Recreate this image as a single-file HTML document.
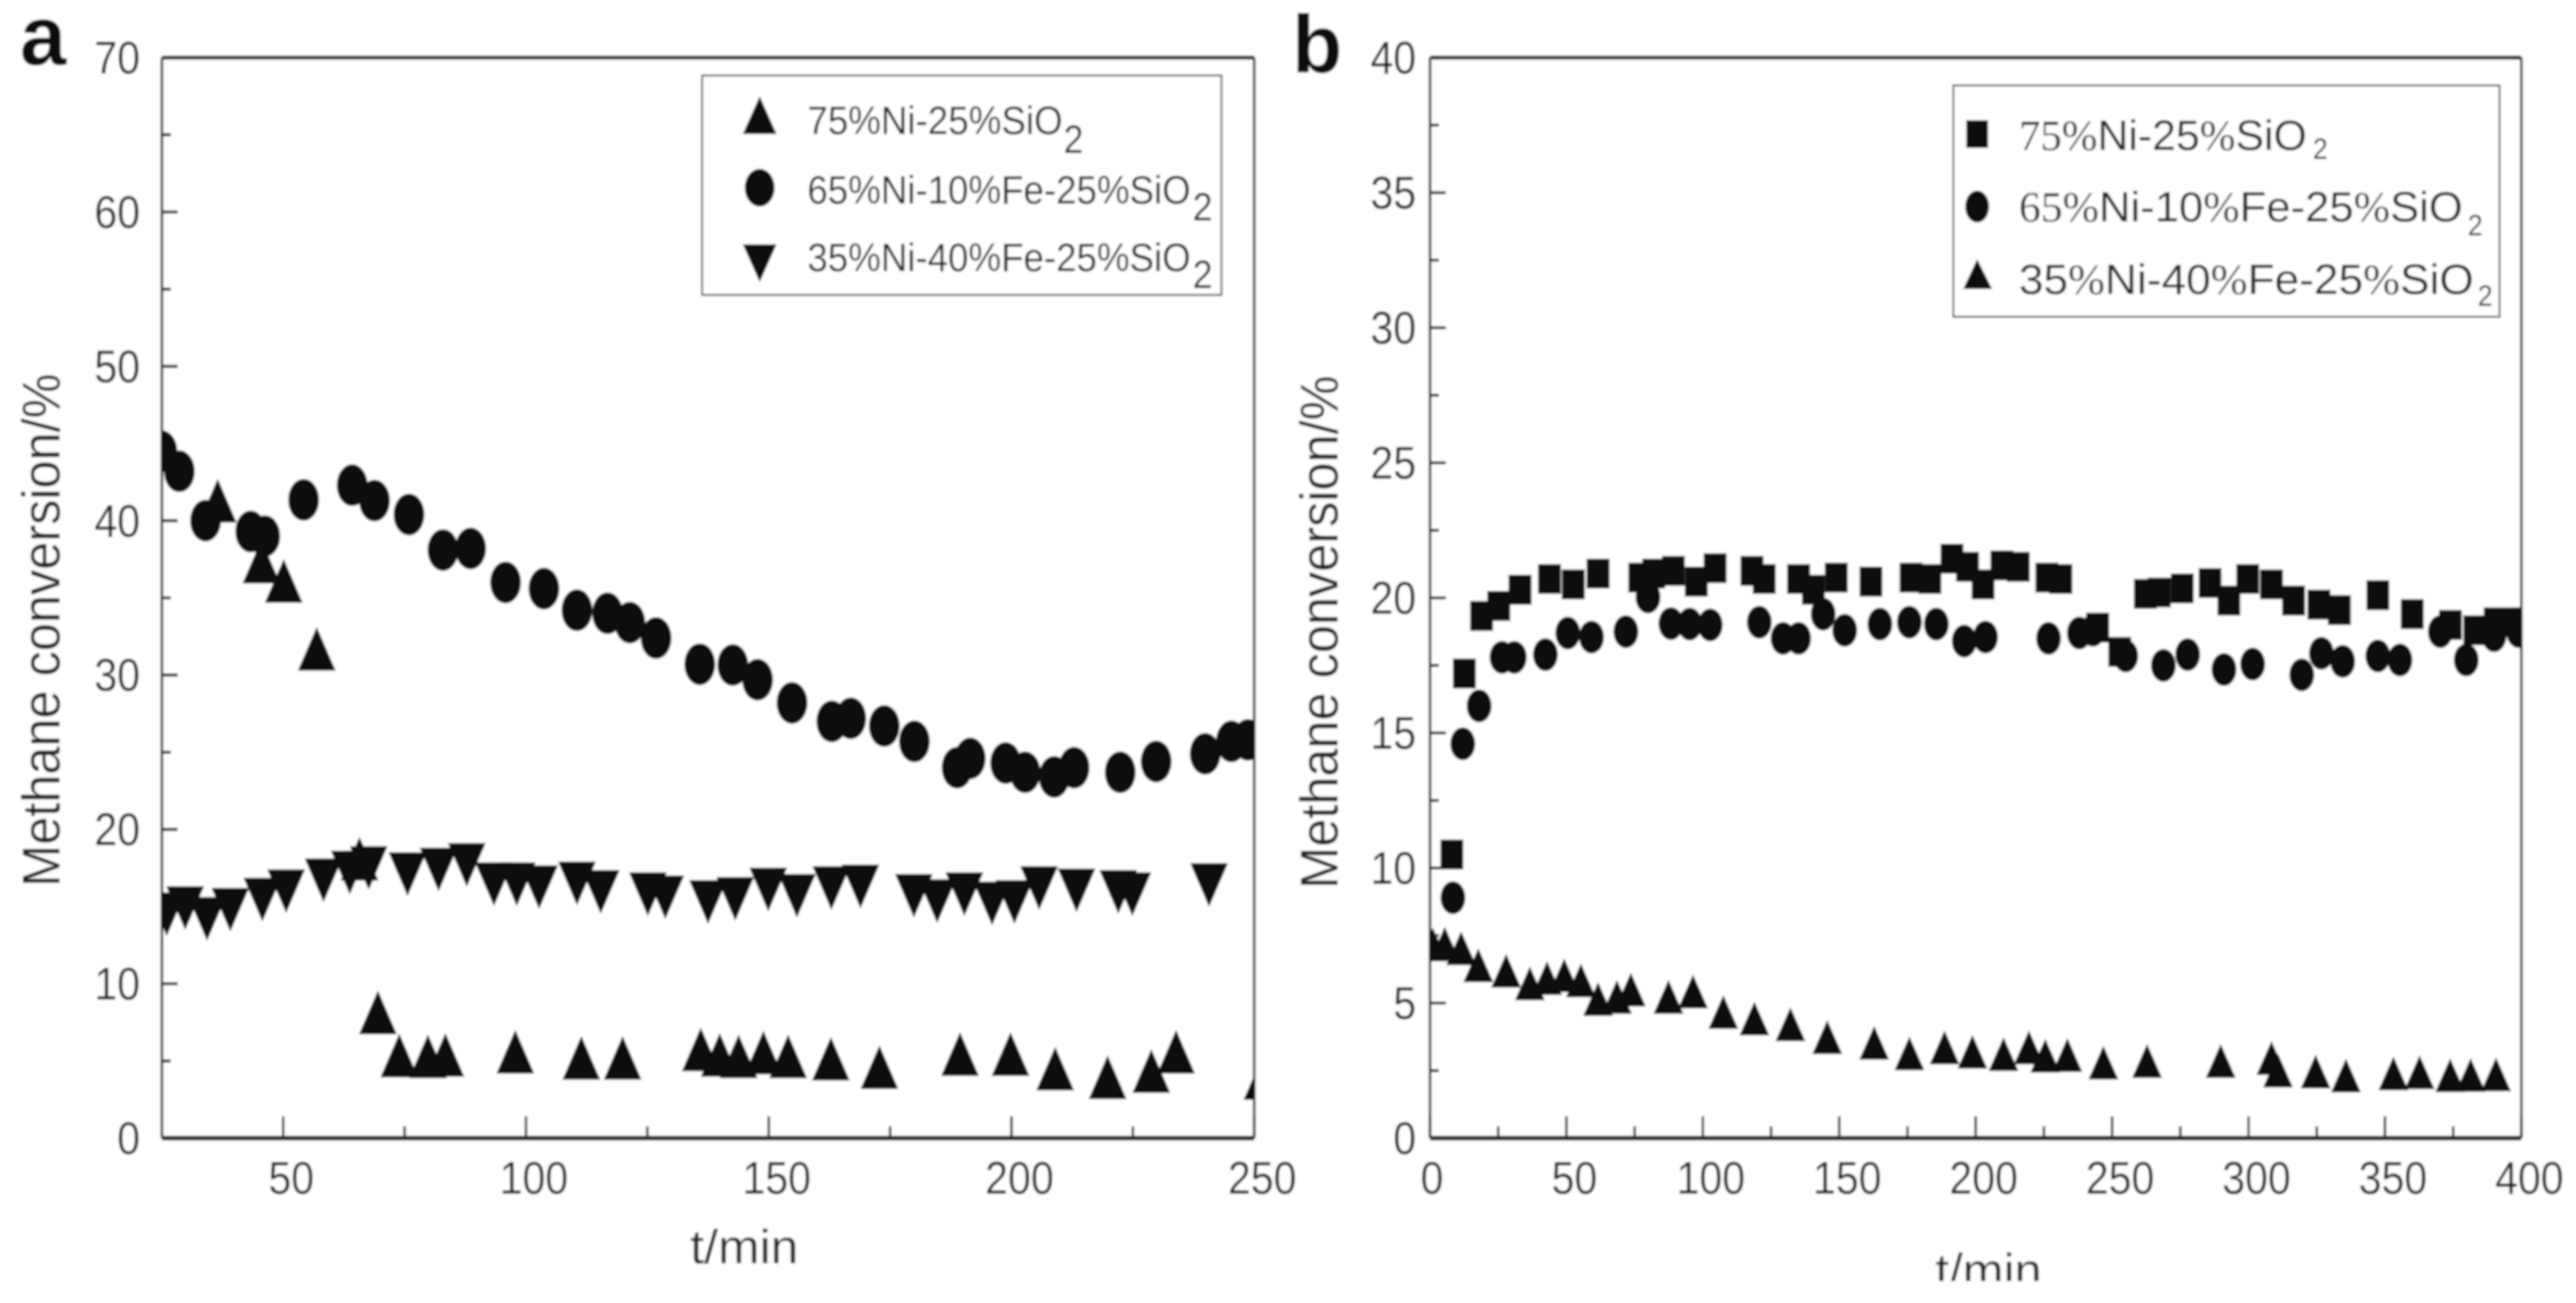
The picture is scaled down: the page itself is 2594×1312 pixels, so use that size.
<!DOCTYPE html>
<html lang="en">
<head>
<meta charset="utf-8">
<title>Methane conversion vs time</title>
<style>
  html, body { margin: 0; padding: 0; background: #fff; }
  svg { display: block; }
  text { font-family: "Liberation Sans", sans-serif; fill: #222; }
</style>
</head>
<body>
<svg id="figure" xmlns="http://www.w3.org/2000/svg" width="2594" height="1312" viewBox="0 0 2594 1312">
  <defs>
    <clipPath id="clip-a"><rect x="163" y="58" width="1100" height="1088"/></clipPath>
    <clipPath id="clip-b"><rect x="1440" y="58" width="1099" height="1088"/></clipPath>
    <clipPath id="clip-page"><rect x="0" y="0" width="2594" height="1290"/></clipPath>
    <filter id="soft" x="0" y="0" width="100%" height="100%"><feGaussianBlur stdDeviation="1"/></filter>
  </defs>
  <g id="root" filter="url(#soft)">
    <rect x="0" y="0" width="2594" height="1312" fill="#fff"/>
    <text x="20" y="65" font-size="84" font-weight="bold" style="fill:#111">a</text>
    <text x="1301" y="73" font-size="83" font-weight="bold" style="fill:#111">b</text>

    <g id="panel-a"></g>
    <g id="panel-b"></g>

    <text transform="translate(60,893) rotate(-90)" font-size="54" textLength="517" lengthAdjust="spacingAndGlyphs">Methane conversion/%</text>
    <text transform="translate(1347,895) rotate(-90)" font-size="54" textLength="517" lengthAdjust="spacingAndGlyphs">Methane conversion/%</text>
    <text x="695" y="1272" font-size="48" textLength="109" lengthAdjust="spacingAndGlyphs">t/min</text>
    <g clip-path="url(#clip-page)">
      <text x="1949" y="1296" font-size="48" textLength="107" lengthAdjust="spacingAndGlyphs">t/min</text>
    </g>

    <g>
      <rect x="707" y="76" width="523" height="221" fill="#fff" stroke="#555" stroke-width="2"/>
      <polygon points="765,97 782,135 748,135" fill="#111"/>
      <ellipse cx="765" cy="189" rx="15" ry="19" fill="#111"/>
      <polygon points="748,246 782,246 765,284" fill="#111"/>
      <text x="813" y="135" font-size="40" textLength="257" lengthAdjust="spacingAndGlyphs">75%Ni-25%SiO</text>
      <text x="1071" y="154" font-size="40" textLength="20" lengthAdjust="spacingAndGlyphs">2</text>
      <text x="813" y="205" font-size="40" textLength="386" lengthAdjust="spacingAndGlyphs">65%Ni-10%Fe-25%SiO</text>
      <text x="1201" y="222" font-size="40" textLength="20" lengthAdjust="spacingAndGlyphs">2</text>
      <text x="813" y="273" font-size="40" textLength="386" lengthAdjust="spacingAndGlyphs">35%Ni-40%Fe-25%SiO</text>
      <text x="1201" y="290" font-size="40" textLength="20" lengthAdjust="spacingAndGlyphs">2</text>
    </g>

    <g>
      <rect x="1967" y="86" width="550" height="233" fill="#fff" stroke="#555" stroke-width="2"/>
      <rect x="1980" y="121" width="22" height="28" fill="#111"/>
      <ellipse cx="1991" cy="208" rx="12" ry="16" fill="#111"/>
      <polygon points="1991,261 2006,291 1977,291" fill="#111"/>
      <text x="2033" y="151" font-size="43" textLength="290" lengthAdjust="spacingAndGlyphs"><tspan font-family="Liberation Serif">75%</tspan>Ni-25<tspan font-family="Liberation Serif">%</tspan>SiO</text>
      <text x="2329" y="160" font-size="30" textLength="15" lengthAdjust="spacingAndGlyphs">2</text>
      <text x="2033" y="223" font-size="43" textLength="447" lengthAdjust="spacingAndGlyphs"><tspan font-family="Liberation Serif">65%</tspan>Ni-10<tspan font-family="Liberation Serif">%</tspan>Fe-25<tspan font-family="Liberation Serif">%</tspan>SiO</text>
      <text x="2485" y="237" font-size="30" textLength="15" lengthAdjust="spacingAndGlyphs">2</text>
      <text x="2033" y="296" font-size="43" textLength="458" lengthAdjust="spacingAndGlyphs">35<tspan font-family="Liberation Serif">%</tspan>Ni-40<tspan font-family="Liberation Serif">%</tspan>Fe-25<tspan font-family="Liberation Serif">%</tspan>SiO</text>
      <text x="2495" y="308" font-size="30" textLength="15" lengthAdjust="spacingAndGlyphs">2</text>
    </g>
  </g>
</svg>
<script>
// ---------- Panel a data ----------
const aXTicks = [50, 100, 150, 200, 250];
const aXMinorTicks = [75, 125, 175, 225];
const aYTicks = [0, 10, 20, 30, 40, 50, 60, 70];
const aYMinorTicks = [5, 15, 25, 35, 45, 55, 65];

const aTriUpTimes = [36.5,45.5,50.1,56.9,65.7,69.5,73.9,79.8,83.4,97.8,111.4,119.9,136,139.9,143.8,148.9,154,162.8,172.8,189.4,199.8,209,219.8,228.8,233.9,251.7];
const aTriUpValues = [41.3,37.35,36.1,31.7,18.1,8.15,5.36,5.3,5.4,5.6,5.2,5.2,5.75,5.4,5.3,5.55,5.3,5.15,4.6,5.45,5.45,4.5,3.95,4.35,5.6,3.9];

const aCircleTimes = [25,28.6,34,43.3,46.2,54.2,64.2,68.8,75.9,82.9,88.6,95.8,103.7,110.5,116.8,121.4,126.8,135.8,142.6,147.7,154.8,163,166.9,173.8,180,188.8,191.5,198.8,202.8,208.8,212.9,222.4,229.8,239.9,245.3,248.7];
const aCircleValues = [44.5,43.2,40,39.3,39,41.35,42.3,41.3,40.4,38.1,38.2,36,35.6,34.2,34,33.4,32.4,30.7,30.65,29.7,28.2,27,27.2,26.7,25.7,24,24.6,24.3,23.7,23.4,24,23.7,24.4,24.9,25.7,25.8];

const aTriDownTimes = [26,29.8,34.3,39.1,45.7,50.6,58.3,63.7,67.6,75.6,82,87.8,93.4,98.1,102.7,110.5,115.4,125.1,128.7,137.5,143.1,149.9,155.8,162.9,168.9,179.9,184.7,190.3,196,200.6,205.7,213.4,222,224.9,240.7];
const aTriDownValues = [14.5,14.9,14.2,14.8,15.45,16,16.7,17.2,17.5,17.1,17.4,17.7,16.45,16.45,16.25,16.5,15.95,15.8,15.6,15.3,15.5,16.1,15.7,16.2,16.3,15.7,15.35,15.8,15.2,15.3,16.2,16.05,15.95,15.8,16.4];

// ---------- Panel b data ----------
const bXTicks = [0, 50, 100, 150, 200, 250, 300, 350, 400];
const bXMinorTicks = [25, 75, 125, 175, 225, 275, 325, 375];
const bYTicks = [0, 5, 10, 15, 20, 25, 30, 35, 40];
const bYMinorTicks = [2.5, 7.5, 12.5, 17.5, 22.5, 27.5, 32.5, 37.5];

const bSquareTimes = [8,12.6,18.9,25.2,33,43.8,52.5,61.6,76.9,82,89.2,97.6,104.5,118,122.5,135.1,140.5,148.9,161.6,176.3,183.2,191.3,197,202.7,209.6,215.6,226.1,231.2,244.7,252.8,262.2,267.3,275.7,285.9,292.8,299.7,308.4,316.5,325.8,333.3,347.4,360,374,382.9,390.4,398.5];
const bSquareValues = [10.5,17.2,19.33,19.7,20.3,20.7,20.5,20.9,20.75,20.9,21,20.6,21.1,21,20.7,20.7,20.3,20.75,20.6,20.75,20.7,21.45,21.15,20.5,21.2,21.15,20.75,20.7,18.9,18,20.15,20.2,20.35,20.55,19.9,20.7,20.5,19.9,19.75,19.55,20.1,19.4,19,18.8,19.1,19.1];

const bCircleTimes = [8.4,12,18,26.4,30.9,42.3,50.5,59.2,71.8,79.9,88.3,95.2,102.7,120.7,129.4,135.1,144.1,152,164.9,175.7,185.6,195.8,203.6,226.7,238,243,255,268.8,277.7,291,301.5,319.5,326.7,334.5,347.4,355.5,370.3,379.8,390,399];
const bCircleValues = [8.9,14.6,16,17.8,17.8,17.9,18.7,18.55,18.75,20.03,19.05,19.03,19,19.1,18.5,18.5,19.4,18.8,19.03,19.1,19.03,18.4,18.55,18.5,18.7,18.8,17.85,17.5,17.9,17.35,17.55,17.15,17.95,17.65,17.85,17.7,18.75,17.7,18.6,18.75];

const bTriTimes = [1,5.4,11.4,17.7,27.9,36.6,42.9,49.2,55.3,61.6,68.5,73.6,87.4,96.4,107.5,118.9,132.1,145.6,162.8,175.7,188.6,198.8,210.2,219.5,225.5,233.6,246.8,262.8,289.8,308.4,310.8,324.6,335.7,353.1,362.7,373.9,381.4,390.7];
const bTriValues = [7.17,7.2,7.03,6.4,6.2,5.73,5.93,6.03,5.84,5.15,5.23,5.5,5.23,5.43,4.67,4.43,4.22,3.74,3.53,3.14,3.36,3.2,3.11,3.36,3.05,3.08,2.8,2.86,2.86,2.97,2.5,2.47,2.32,2.4,2.44,2.33,2.34,2.36];

// ---------- Axis functions ----------
const PLOT_TOP = 58, PLOT_BOTTOM = 1146;
function xA(t) { return 163 + (t - 25) * 1100 / 225; }
function yA(v) { return PLOT_BOTTOM - v * (PLOT_BOTTOM - PLOT_TOP) / 70; }
function xB(t) { return 1440 + t * 1099 / 400; }
function yB(v) { return PLOT_BOTTOM - v * (PLOT_BOTTOM - PLOT_TOP) / 40; }

const NS = 'http://www.w3.org/2000/svg';
const INK = '#111';

function make(tag, parent, attrs) {
  const el = document.createElementNS(NS, tag);
  for (const k in attrs) el.setAttribute(k, attrs[k]);
  parent.appendChild(el);
  return el;
}

function drawUp(g, cx, cy, w, h) {
  const el = make('polygon', g, {
    points: cx + ',' + (cy - h / 2) + ' ' + (cx + w / 2) + ',' + (cy + h / 2) + ' ' + (cx - w / 2) + ',' + (cy + h / 2),
    fill: INK
  });
  
  
}
function drawDown(g, cx, cy, w, h) {
  const el = make('polygon', g, {
    points: (cx - w / 2) + ',' + (cy - h / 2) + ' ' + (cx + w / 2) + ',' + (cy - h / 2) + ' ' + cx + ',' + (cy + h / 2),
    fill: INK
  });
  
  
}
function drawCircle(g, cx, cy, rx, ry) {
  const el = make('ellipse', g, { cx: cx, cy: cy, rx: rx, ry: ry, fill: INK });
  
  
}
function drawSquare(g, cx, cy, w, h) {
  const el = make('rect', g, { x: cx - w / 2, y: cy - h / 2, width: w, height: h, fill: INK });
  
  
}

function drawAxes(panel, x, y, xMin, xMax, yMax, xTicks, xMinor, yTicks, yMinor, cfg) {
  const axes = make('g', panel, {});
  
  
  const left = x(xMin), right = x(xMax);

  const frame = [
    [left, PLOT_TOP, right, PLOT_TOP, 4],
    [left, PLOT_BOTTOM, right, PLOT_BOTTOM, 4.5],
    [left, PLOT_TOP, left, PLOT_BOTTOM, 2.5],
    [right, PLOT_TOP, right, PLOT_BOTTOM, 2.5]
  ];
  frame.forEach(function (f) {
    const line = make('line', axes, { x1: f[0], y1: f[1], x2: f[2], y2: f[3], stroke: '#222', 'stroke-width': f[4] });
    
    
  });

  xTicks.forEach(function (t) {
    const px = x(t);
    const tick = make('line', axes, { x1: px, y1: PLOT_BOTTOM, x2: px, y2: PLOT_BOTTOM - 22, stroke: '#222', 'stroke-width': 2.5 });
    
    
    const label = make('text', axes, { transform: 'translate(' + (px + (t === 0 ? 2 : 8)) + ',1202) scale(0.9,1)', 'font-size': 46, 'text-anchor': 'middle' });
    label.textContent = String(t);
    
    
  });
  xMinor.forEach(function (t) {
    const tick = make('line', axes, { x1: x(t), y1: PLOT_BOTTOM, x2: x(t), y2: PLOT_BOTTOM - 12, stroke: '#222', 'stroke-width': 2.5 });
    
    
  });
  yTicks.forEach(function (v) {
    const py = y(v);
    const tick = make('line', axes, { x1: left, y1: py, x2: left + 16, y2: py, stroke: '#222', 'stroke-width': 3 });
    
    
    const label = make('text', axes, { transform: 'translate(' + cfg.yLabelRight + ',' + (py + 16) + ') scale(0.9,1)', 'font-size': 46, 'text-anchor': 'end' });
    label.textContent = String(v);
    
    
  });
  yMinor.forEach(function (v) {
    const tick = make('line', axes, { x1: left, y1: y(v), x2: left + 9, y2: y(v), stroke: '#222', 'stroke-width': 3 });
    
    
  });
}

// ---------- Panel a ----------
const panelA = document.getElementById('panel-a');
drawAxes(panelA, xA, yA, 25, 250, 70, aXTicks, aXMinorTicks, aYTicks, aYMinorTicks, { yLabelRight: 141 });

const marksA = make('g', panelA, { 'clip-path': 'url(#clip-a)' });



const seriesA1 = make('g', marksA, {});


aTriUpTimes.forEach(function (t, i) { drawUp(seriesA1, xA(t), yA(aTriUpValues[i]), 38, 44); });

const seriesA2 = make('g', marksA, {});


aCircleTimes.forEach(function (t, i) { drawCircle(seriesA2, xA(t), yA(aCircleValues[i]), 15.5, 21); });

const seriesA3 = make('g', marksA, {});


aTriDownTimes.forEach(function (t, i) { drawDown(seriesA3, xA(t), yA(aTriDownValues[i]), 38, 44); });

// ---------- Panel b ----------
const panelB = document.getElementById('panel-b');
drawAxes(panelB, xB, yB, 0, 400, 40, bXTicks, bXMinorTicks, bYTicks, bYMinorTicks, { yLabelRight: 1426 });

const marksB = make('g', panelB, { 'clip-path': 'url(#clip-b)' });



const seriesB1 = make('g', marksB, {});


bSquareTimes.forEach(function (t, i) { drawSquare(seriesB1, xB(t), yB(bSquareValues[i]), 23, 30); });

const seriesB2 = make('g', marksB, {});


bCircleTimes.forEach(function (t, i) { drawCircle(seriesB2, xB(t), yB(bCircleValues[i]), 12.5, 16.5); });

const seriesB3 = make('g', marksB, {});


bTriTimes.forEach(function (t, i) { drawUp(seriesB3, xB(t), yB(bTriValues[i]), 30, 34); });
</script>
</body>
</html>
